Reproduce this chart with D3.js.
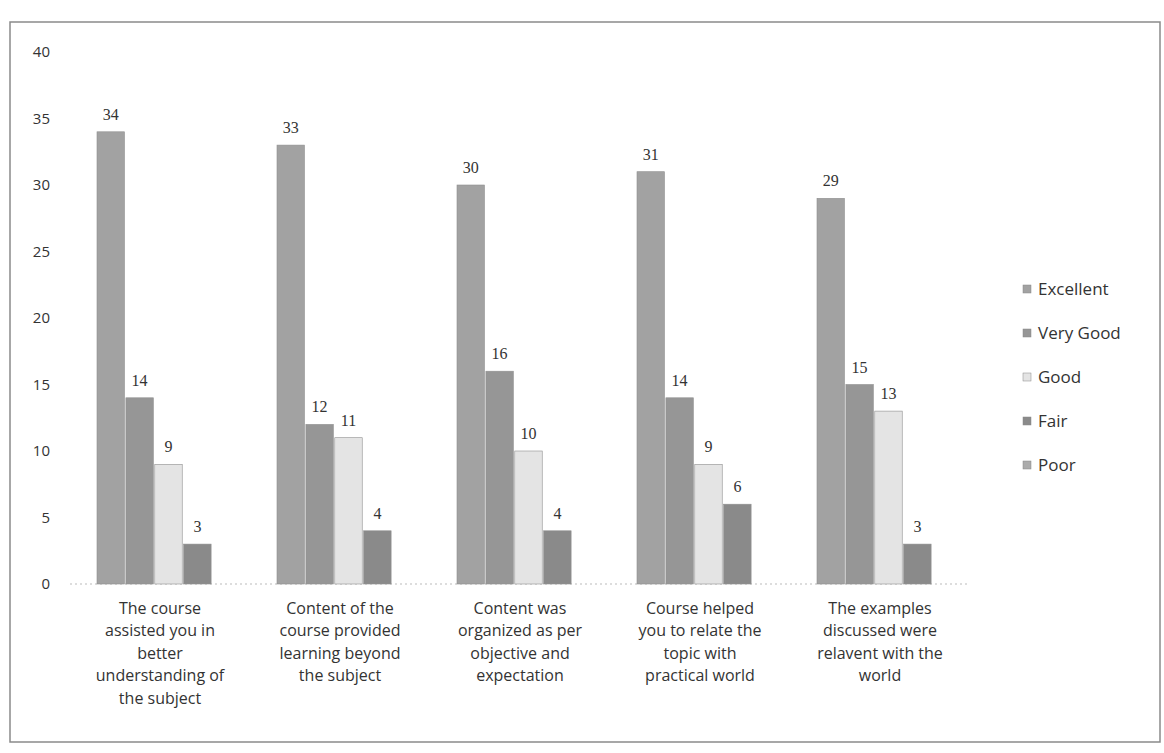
<!DOCTYPE html>
<html><head><meta charset="utf-8">
<script src="https://cdn.jsdelivr.net/npm/d3@7"></script>
<style>body{margin:0;background:#fff}svg{display:block}</style>
</head><body>
<svg id="c" width="1164" height="753"></svg>
<script>
const categories = [
  ["The course","assisted you in","better","understanding of","the subject"],
  ["Content of the","course provided","learning beyond","the subject"],
  ["Content was","organized as per","objective and","expectation"],
  ["Course helped","you to relate the","topic with","practical world"],
  ["The examples","discussed were","relavent with the","world"]
];
const seriesNames = ["Excellent","Very Good","Good","Fair","Poor"];
const excellent = [34,33,30,31,29];
const veryGood  = [14,12,16,14,15];
const good      = [9,11,10,9,13];
const fair      = [3,4,4,6,3];
const poor      = [0,0,0,0,0];
const yTicks = [0,5,10,15,20,25,30,35,40];
const seriesValues = [excellent, veryGood, good, fair, poor];
const colors = ["#a2a2a2","#969696","#e4e4e4","#8a8a8a","#ababab"];

const svg = d3.select("#c");
const font = "'Open Sans','DejaVu Sans',sans-serif";

// frame
svg.append("rect").attr("x",10).attr("y",22).attr("width",1150).attr("height",720)
  .attr("fill","none").attr("stroke","#8a8a8a").attr("stroke-width",1.5);

const y = d3.scaleLinear().domain([0,40]).range([584,52]);
const x0 = d3.scaleBand().domain(d3.range(categories.length)).range([70,970]);
const x1 = d3.scaleBand().domain(d3.range(seriesNames.length)).range([27,170]).paddingInner(0.05);

// y labels
svg.append("g").selectAll("text").data(yTicks).join("text")
  .attr("x",50).attr("y",d=>y(d)).attr("dy","0.35em").attr("text-anchor","end")
  .attr("font-family",font).attr("font-size",15).attr("fill","#333").text(d=>d);

// baseline
svg.append("line").attr("x1",70).attr("x2",970).attr("y1",y(0)).attr("y2",y(0))
  .attr("stroke","#bbb").attr("stroke-dasharray","2,3");

const g = svg.append("g");
seriesValues.forEach((vals,si)=>{
  vals.forEach((v,ci)=>{
    if(v<=0) return;
    const bx = x0(ci)+x1(si);
    g.append("rect").attr("x",bx).attr("y",y(v)).attr("width",x1.bandwidth())
      .attr("height",y(0)-y(v)).attr("fill",colors[si]).attr("stroke","#8f8f8f").attr("stroke-width",0.6);
    g.append("text").attr("x",bx+x1.bandwidth()/2).attr("y",y(v)-12)
      .attr("text-anchor","middle").attr("font-family","'Liberation Serif',serif")
      .attr("font-size",16).attr("fill","#333").text(v);
  });
});

// category labels
categories.forEach((lines,ci)=>{
  const t = svg.append("text").attr("x",x0(ci)+x0.bandwidth()/2).attr("y",614)
    .attr("text-anchor","middle").attr("font-family",font).attr("font-size",16).attr("fill","#333");
  lines.forEach((l,i)=>t.append("tspan").attr("x",x0(ci)+x0.bandwidth()/2).attr("dy",i?"1.4em":0).text(l));
});

// legend
const lg = svg.append("g");
seriesNames.forEach((n,i)=>{
  const ly = 289 + i*44;
  lg.append("rect").attr("x",1023).attr("y",ly-4).attr("width",8).attr("height",8).attr("fill",colors[i]).attr("stroke","#888").attr("stroke-width",0.5);
  lg.append("text").attr("x",1038).attr("y",ly).attr("dy","0.35em").attr("font-family",font)
    .attr("font-size",17).attr("fill","#333").text(n);
});
</script>
</body></html>
